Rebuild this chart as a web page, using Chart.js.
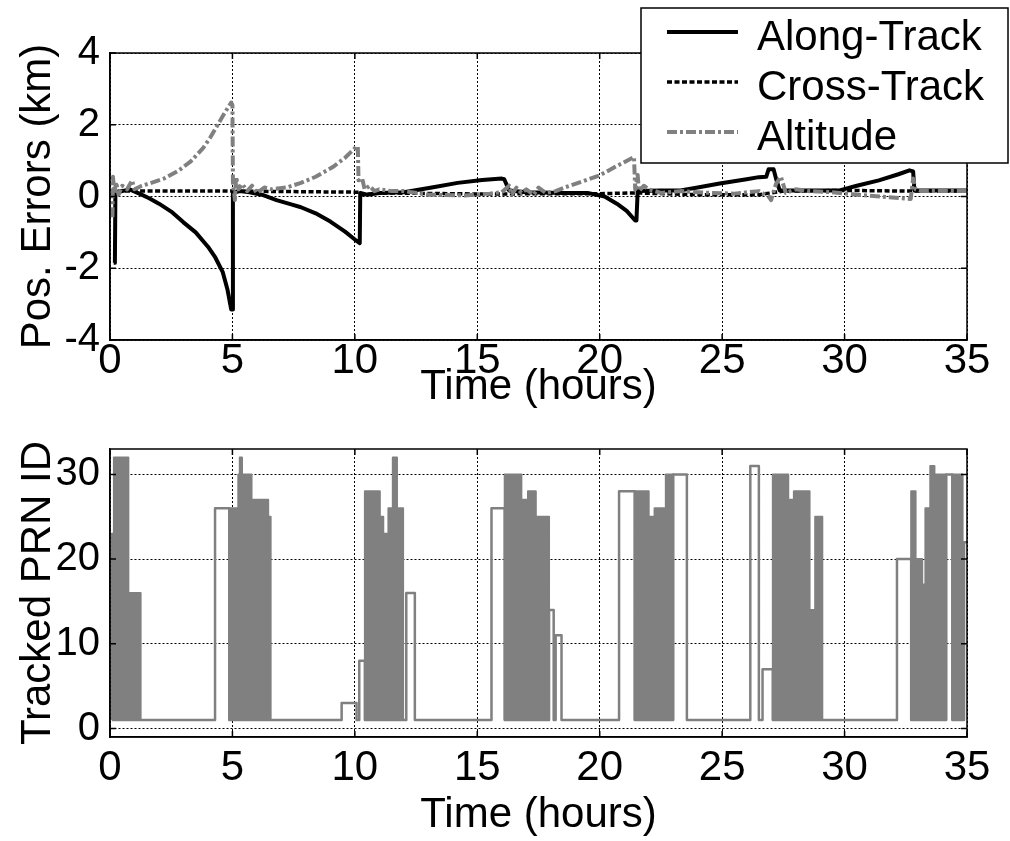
<!DOCTYPE html>
<html><head><meta charset="utf-8">
<script src="https://cdn.jsdelivr.net/npm/chart.js@4.4.1/dist/chart.umd.min.js"></script>
<style>
html,body{margin:0;padding:0;background:#fff;}
#wrap{position:relative;width:1010px;height:841px;overflow:hidden;background:#fff;}
canvas{position:absolute;left:0;}
#c1{top:0;width:1010px;height:415px;}
#c2{top:415px;width:1010px;height:426px;}
</style></head><body>
<div id="wrap"><canvas id="c1" width="1010" height="415"></canvas><canvas id="c2" width="1010" height="426"></canvas></div>
<script>
// ---------- data ----------
const xTicks = [0,5,10,15,20,25,30,35];
const posTicks = [-4,-2,0,2,4];
const prnTicks = [0,10,20,30];
const seriesNames = ['Along-Track','Cross-Track','Altitude'];

const alongT = [0.15,0.2,0.22,0.5,0.8,1.2,1.6,2.0,2.5,3.0,3.5,4.0,4.3,4.6,4.8,4.95,5.0,5.02,5.3,5.7,6.2,6.8,7.4,7.8,8.4,9.0,9.6,10.0,10.2,10.22,10.5,11.0,12.0,13.2,14.2,15.2,16.0,16.1,16.3,17.0,18.5,19.5,20.2,20.7,21.1,21.45,21.5,21.55,22.5,23.3,24.0,24.9,26.0,26.5,26.8,26.9,27.1,27.2,27.35,28.5,29.8,30.5,31.4,32.2,32.65,32.8,32.85,35.0];
const alongV = [-1.85,-1.85,0.1,0.15,0.2,0.08,-0.05,-0.2,-0.42,-0.72,-1.0,-1.4,-1.7,-2.1,-2.6,-3.15,-3.15,0.1,0.15,0.12,0.05,-0.1,-0.22,-0.3,-0.47,-0.7,-0.98,-1.2,-1.3,0.1,0.05,0.1,0.12,0.26,0.38,0.46,0.5,0.48,0.17,0.12,0.1,0.1,0.0,-0.2,-0.4,-0.67,-0.67,0.15,0.17,0.17,0.25,0.36,0.48,0.54,0.55,0.76,0.76,0.5,0.17,0.17,0.17,0.3,0.45,0.62,0.73,0.7,0.17,0.17];

const crossT = [0.1,0.3,2.0,5.0,5.05,5.2,10.2,10.3,11.0,15.0,20.0,21.5,24.0,26.5,27.5,30.0,32.7,33.0,35.0];
const crossV = [0.0,0.15,0.15,0.15,0.05,0.15,0.12,0.05,0.1,0.07,0.08,0.1,0.05,0.05,0.15,0.17,0.15,0.15,0.15];

const altT = [0.1,0.12,0.18,0.25,0.35,0.5,0.7,0.9,1.0,1.3,1.6,2.2,2.8,3.3,3.8,4.1,4.4,4.7,4.95,5.0,5.02,5.1,5.15,5.25,5.4,5.6,5.8,6.0,6.3,6.6,7.2,7.8,8.4,9.1,9.6,10.05,10.12,10.15,10.3,10.4,10.6,10.8,11.0,11.5,12.0,13.0,14.5,15.5,16.0,16.3,16.4,16.6,16.8,17.0,17.3,17.5,17.8,18.2,18.6,19.3,20.0,20.7,21.4,21.45,21.55,21.6,21.8,22.0,22.5,23.3,24.5,25.5,26.5,26.9,27.0,27.2,27.4,27.6,28.0,28.5,29.5,30.5,31.5,32.3,32.7,32.8,32.9,33.2,34.0,35.0];
const altV = [-0.58,0.55,0.1,0.4,0.05,0.3,0.2,0.45,0.2,0.3,0.36,0.5,0.72,0.98,1.35,1.65,2.0,2.35,2.62,2.55,0.4,-0.1,0.55,0.2,0.35,0.15,0.3,0.1,0.25,0.2,0.25,0.38,0.55,0.82,1.08,1.38,1.4,0.45,0.5,0.2,0.3,0.15,0.2,0.15,0.15,0.05,0.03,0.08,0.12,0.3,0.05,0.25,0.1,0.2,0.05,0.25,0.1,0.15,0.26,0.42,0.59,0.85,1.1,0.2,0.6,0.15,0.3,0.2,0.1,0.15,0.1,0.08,0.15,0.0,-0.1,0.35,0.55,0.1,0.2,0.15,0.12,0.05,0.0,-0.05,-0.07,0.5,0.2,0.15,0.15,0.15];

// tracked PRN: single-satellite step trace
const prnT = [0.07,1.25,4.29,4.29,4.87,4.87,6.56,9.46,9.46,10.07,10.07,10.18,10.18,10.41,10.41,11.97,12.1,12.1,12.45,12.45,15.58,15.58,16.12,16.12,17.93,17.93,18.12,18.12,18.2,18.2,18.44,18.44,20.79,20.79,21.43,21.43,23.0,23.0,23.56,23.56,26.15,26.15,26.5,26.5,26.65,26.65,27.07,27.07,29.09,32.14,32.14,32.72,32.72,34.15,34.15,34.4,34.4,34.88,34.88,35.0];
const prnV = [1,1,1,26,26,1,1,1,3,3,1,1,8,8,1,1,1,16,16,1,1,26,26,1,1,14,14,1,1,11,11,1,1,28,28,1,1,30,30,1,1,31,31,1,1,7,7,1,1,1,20,20,1,1,30,30,1,1,22,22];

// tracked PRN: rapidly switching periods (envelope of the switching), null = gap
const blkT = [0.07,0.07,0.16,0.16,0.75,0.75,1.25,1.25,1.25,
  4.87,4.87,5.24,5.24,5.3,5.3,5.39,5.39,5.78,5.78,6.46,6.46,6.56,6.56,6.56,
  10.41,10.41,11.02,11.02,11.16,11.16,11.37,11.37,11.55,11.55,11.72,11.72,11.97,11.97,11.97,
  16.12,16.12,16.8,16.8,17.07,17.07,17.39,17.39,17.93,17.93,17.93,
  21.43,21.43,22.0,22.0,22.24,22.24,22.7,22.7,23.0,23.0,23.0,
  27.07,27.07,27.7,27.7,27.93,27.93,28.57,28.57,28.8,28.8,29.09,29.09,29.09,
  32.72,32.72,32.9,32.9,33.17,33.17,33.3,33.3,33.5,33.5,33.67,33.67,34.15,34.15,34.15,
  34.4,34.4,34.82,34.82];
const blkV = [1,23,23,32,32,16,16,1,null,
  1,26,26,30,30,32,32,30,30,27,27,25,25,1,null,
  1,28,28,25,25,23,23,26,26,32,32,26,26,1,null,
  1,30,30,27,27,28,28,25,25,1,null,
  1,28,28,25,25,26,26,30,30,1,null,
  1,30,30,27,27,28,28,14,14,25,25,1,null,
  1,28,28,20,20,17,17,26,26,31,31,30,30,1,null,
  1,30,30,1];

// ---------- chart ----------
const FONT = "'Liberation Sans', Arial, Helvetica, sans-serif";
Chart.defaults.font.family = FONT;
Chart.defaults.color = '#000';

function pts(T, V) { return T.map((t, i) => ({x: t, y: V[i]})); }

const framePlugin = {
  id: 'frame',
  afterDatasetsDraw(chart) {
    const a = chart.chartArea, c = chart.ctx;
    const xs = chart.scales.x, ys = chart.scales.y, tl = 6;
    c.save();
    c.strokeStyle = '#000'; c.lineWidth = 1.5; c.setLineDash([]);
    c.beginPath();
    xs.ticks.forEach(t => {
      const p = xs.getPixelForValue(t.value);
      c.moveTo(p, a.bottom); c.lineTo(p, a.bottom - tl);
      c.moveTo(p, a.top); c.lineTo(p, a.top + tl);
    });
    ys.ticks.forEach(t => {
      const p = ys.getPixelForValue(t.value);
      c.moveTo(a.left, p); c.lineTo(a.left + tl, p);
      c.moveTo(a.right, p); c.lineTo(a.right - tl, p);
    });
    c.stroke();
    c.strokeRect(a.left, a.top, a.right - a.left, a.bottom - a.top);
    c.restore();
  }
};

const legendPlugin = {
  id: 'boxLegend',
  afterDraw(chart) {
    const c = chart.ctx;
    c.save();
    c.fillStyle = '#fff';
    c.fillRect(641, 8, 367, 155);
    c.strokeStyle = '#000'; c.lineWidth = 1.5; c.setLineDash([]);
    c.strokeRect(641, 8, 367, 155);
    chart.data.datasets.forEach((ds, i) => {
      const y = 32 + i * 50;
      c.strokeStyle = ds.borderColor; c.lineWidth = ds.borderWidth;
      c.setLineDash(ds.borderDash || []);
      c.beginPath(); c.moveTo(667, y); c.lineTo(738, y); c.stroke();
      c.setLineDash([]);
      c.fillStyle = '#000'; c.font = '42px ' + FONT;
      c.textBaseline = 'middle'; c.textAlign = 'left';
      c.fillText(ds.label, 757, y + 6);
    });
    c.restore();
  }
};

function xAxis(height, tickPad, titlePadBottom) {
  return {
    type: 'linear', min: 0, max: 35,
    afterBuildTicks: s => { s.ticks = xTicks.map(v => ({value: v})); },
    afterFit: s => { s.height = height; },
    ticks: { font: {size: 42}, padding: tickPad, maxRotation: 0, autoSkip: false, color: '#000' },
    grid: { color: '#000', lineWidth: 1, drawTicks: false },
    border: { display: true, color: '#000', width: 1.5, dash: [2, 2] },
    title: { display: true, text: 'Time (hours)', font: {size: 42}, color: '#000',
             padding: {top: 0, bottom: titlePadBottom} }
  };
}
function yAxis(min, max, ticks, label) {
  return {
    type: 'linear', min: min, max: max,
    afterBuildTicks: s => { s.ticks = ticks.map(v => ({value: v})); },
    afterFit: s => { s.width = 110; },
    ticks: { font: {size: 40}, padding: 10, color: '#000' },
    grid: { color: '#000', lineWidth: 1, drawTicks: false },
    border: { display: true, color: '#000', width: 1.5, dash: [2, 2] },
    title: { display: true, text: label, font: {size: 42}, color: '#000',
             padding: {top: 13, bottom: 0} }
  };
}

const common = {
  responsive: false, animation: false, devicePixelRatio: 1,
  plugins: { legend: {display: false}, tooltip: {enabled: false} },
  elements: { point: {radius: 0}, line: {tension: 0, borderJoinStyle: 'round'} }
};

new Chart(document.getElementById('c1'), {
  type: 'line',
  data: {
    datasets: [
      { label: seriesNames[0], data: pts(alongT, alongV), borderColor: '#000', borderWidth: 4, order: 3, fill: false },
      { label: seriesNames[1], data: pts(crossT, crossV), borderColor: '#000', borderWidth: 3.5, borderDash: [5, 2.5], order: 2, fill: false },
      { label: seriesNames[2], data: pts(altT, altV), borderColor: '#808080', borderWidth: 4, borderDash: [10, 3, 3, 3], order: 1, fill: false }
    ]
  },
  options: Object.assign({}, common, {
    layout: { padding: {left: 0, top: 53, right: 43, bottom: 0} },
    scales: { x: xAxis(75, -4, 2), y: yAxis(-4, 4, posTicks, 'Pos. Errors (km)') }
  }),
  plugins: [framePlugin, legendPlugin]
});

new Chart(document.getElementById('c2'), {
  type: 'line',
  data: {
    datasets: [
      { label: 'PRN', data: pts(prnT, prnV), borderColor: '#808080', borderWidth: 2.5, fill: false, spanGaps: false },
      { label: 'PRN switching', data: pts(blkT, blkV), borderColor: '#808080', borderWidth: 2,
        backgroundColor: '#808080', fill: {value: 1}, spanGaps: false }
    ]
  },
  options: Object.assign({}, common, {
    layout: { padding: {left: 0, top: 34, right: 43, bottom: 0} },
    scales: { x: xAxis(104, 6, 0), y: yAxis(-1, 33, prnTicks, 'Tracked PRN ID') }
  }),
  plugins: [framePlugin]
});
</script>
</body></html>
